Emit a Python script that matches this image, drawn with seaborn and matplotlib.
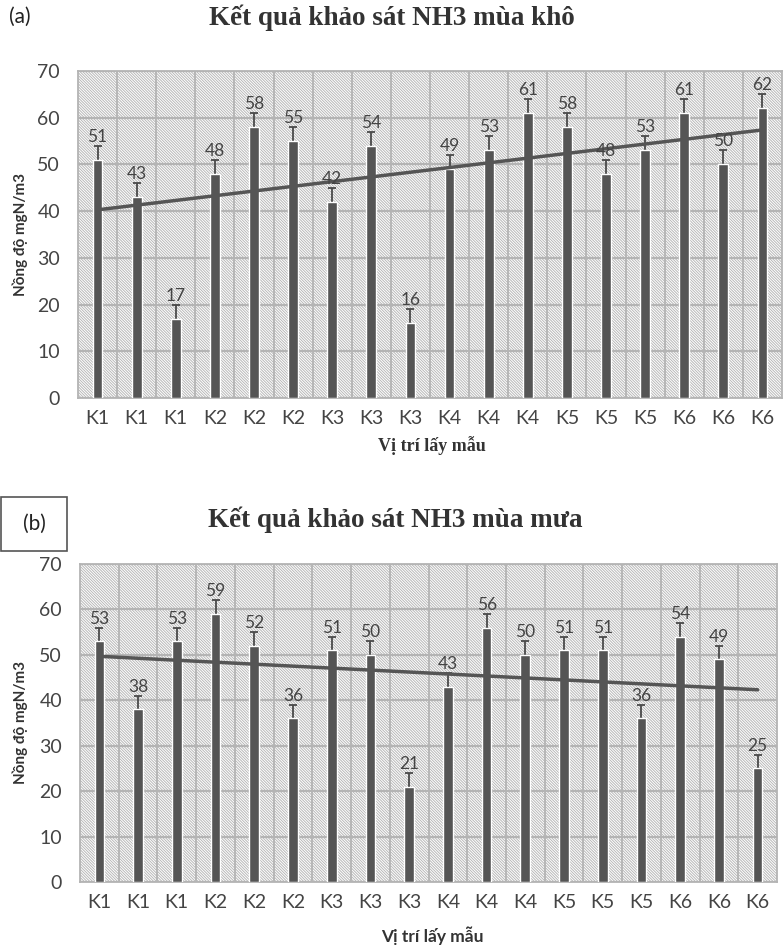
import numpy as np
import seaborn as sns
import matplotlib.pyplot as plt
from matplotlib.patches import Rectangle

# data
labels = ["K1", "K1", "K1", "K2", "K2", "K2", "K3", "K3", "K3",
          "K4", "K4", "K4", "K5", "K5", "K5", "K6", "K6", "K6"]
dry = [51, 43, 17, 48, 58, 55, 42, 54, 16, 49, 53, 61, 58, 48, 53, 61, 50, 62]
rain = [53, 38, 53, 59, 52, 36, 51, 50, 21, 43, 56, 50, 51, 51, 36, 54, 49, 25]
err_dry = [3, 3, 3, 3, 3, 3, 3, 3, 3, 3, 3, 3, 3, 3, 3, 3, 3, 3]
err_rain = [3, 3, 3, 3, 3, 3, 3, 3, 3, 3, 3, 3, 3, 3, 3, 3, 3, 3]
yticks = [0, 10, 20, 30, 40, 50, 60, 70]

sns.set_style("white")
plt.rcParams["font.family"] = ["Lato", "DejaVu Sans"]
plt.rcParams["hatch.linewidth"] = 0.7

BAR = "#555555"
GRID = "#b4b4b4"
TXT = "#444444"
W, H = 783, 950

fig = plt.figure(figsize=(7.83, 9.5), dpi=100)


def fx(px):
    return px / W


def fy(py):
    return 1 - py / H


def panel(rect, vals, errs):
    ax = fig.add_axes(rect)
    pos = list(range(len(vals)))
    # hatched plot area
    ax.add_patch(Rectangle((0, 0), 1, 1, transform=ax.transAxes, facecolor="white",
                           edgecolor="#b8b8b8", hatch="\\" * 12, lw=0, zorder=0))
    sns.barplot(x=pos, y=vals, color=BAR, width=0.25, saturation=1,
                ax=ax, zorder=3)
    ax.errorbar(pos, vals, yerr=errs, fmt="none", ecolor="#4a4a4a",
                elinewidth=1.3, capsize=3.2, capthick=1.3, zorder=2.5)
    sns.regplot(x=np.array(pos, dtype=float), y=np.array(vals, dtype=float),
                scatter=False, ci=None, truncate=True, ax=ax,
                line_kws={"color": "#555555", "lw": 2.5, "zorder": 5})
    for p, v, e in zip(pos, vals, errs):
        ax.text(p, v + e + 0.2, str(v), ha="center", va="bottom",
                fontsize=12.5, color=TXT, zorder=6)
    ax.set_xlim(-0.5, len(vals) - 0.5)
    ax.set_ylim(0, 70)
    ax.set_yticks(yticks)
    ax.set_xticks(pos)
    ax.set_xticklabels(labels)
    ax.set_xticks([p + 0.5 for p in pos[:-1]], minor=True)
    ax.grid(axis="y", which="major", color=GRID, lw=1.6, zorder=1)
    ax.grid(axis="x", which="minor", color=GRID, lw=1.3, zorder=1)
    ax.set_axisbelow(True)
    ax.tick_params(axis="both", which="both", length=0, labelsize=14,
                   labelcolor=TXT)
    ax.tick_params(axis="y", pad=13)
    ax.tick_params(axis="x", pad=9)
    for s in ax.spines.values():
        s.set_color(GRID)
        s.set_linewidth(1.3)
    ax.set_xlabel("")
    ax.set_ylabel("")
    return ax


ax1 = panel([fx(78), fy(398), fx(782 - 78), (398 - 71) / H], dry, err_dry)
ax2 = panel([fx(80), fy(882), fx(777 - 80), (882 - 564) / H], rain, err_rain)

# panel (a) texts
fig.text(fx(9), fy(17), "(a)", fontsize=15, color="#222222", va="center")
fig.text(fx(392), fy(18), "Kết quả khảo sát NH3 mùa khô", fontsize=19.5,
         fontweight="bold", family=["Liberation Serif", "DejaVu Serif"],
         color="#333333", ha="center", va="center")
fig.text(fx(432), fy(446), "Vị trí lấy mẫu", fontsize=13, fontweight="bold",
         family=["Liberation Serif", "DejaVu Serif"], color="#333333",
         ha="center", va="center")
fig.text(fx(20), fy(235), "Nồng độ mgN/m3", fontsize=11, fontweight="bold",
         rotation=90, color="#333333", ha="center", va="center")

# panel (b) texts
fig.add_artist(Rectangle((fx(1), fy(551)), fx(66), (551 - 497) / H,
                         transform=fig.transFigure, fill=False,
                         edgecolor="#555555", lw=1.2))
fig.text(fx(34), fy(524), "(b)", fontsize=15, color="#222222",
         ha="center", va="center")
fig.text(fx(395), fy(520), "Kết quả khảo sát NH3 mùa mưa", fontsize=19.5,
         fontweight="bold", family=["Liberation Serif", "DejaVu Serif"],
         color="#333333", ha="center", va="center")
fig.text(fx(432), fy(936), "Vị trí lấy mẫu", fontsize=12.5, fontweight="bold",
         color="#333333", ha="center", va="center")
fig.text(fx(20), fy(723), "Nồng độ mgN/m3", fontsize=11, fontweight="bold",
         rotation=90, color="#333333", ha="center", va="center")

fig.savefig("out.png", dpi=100)
